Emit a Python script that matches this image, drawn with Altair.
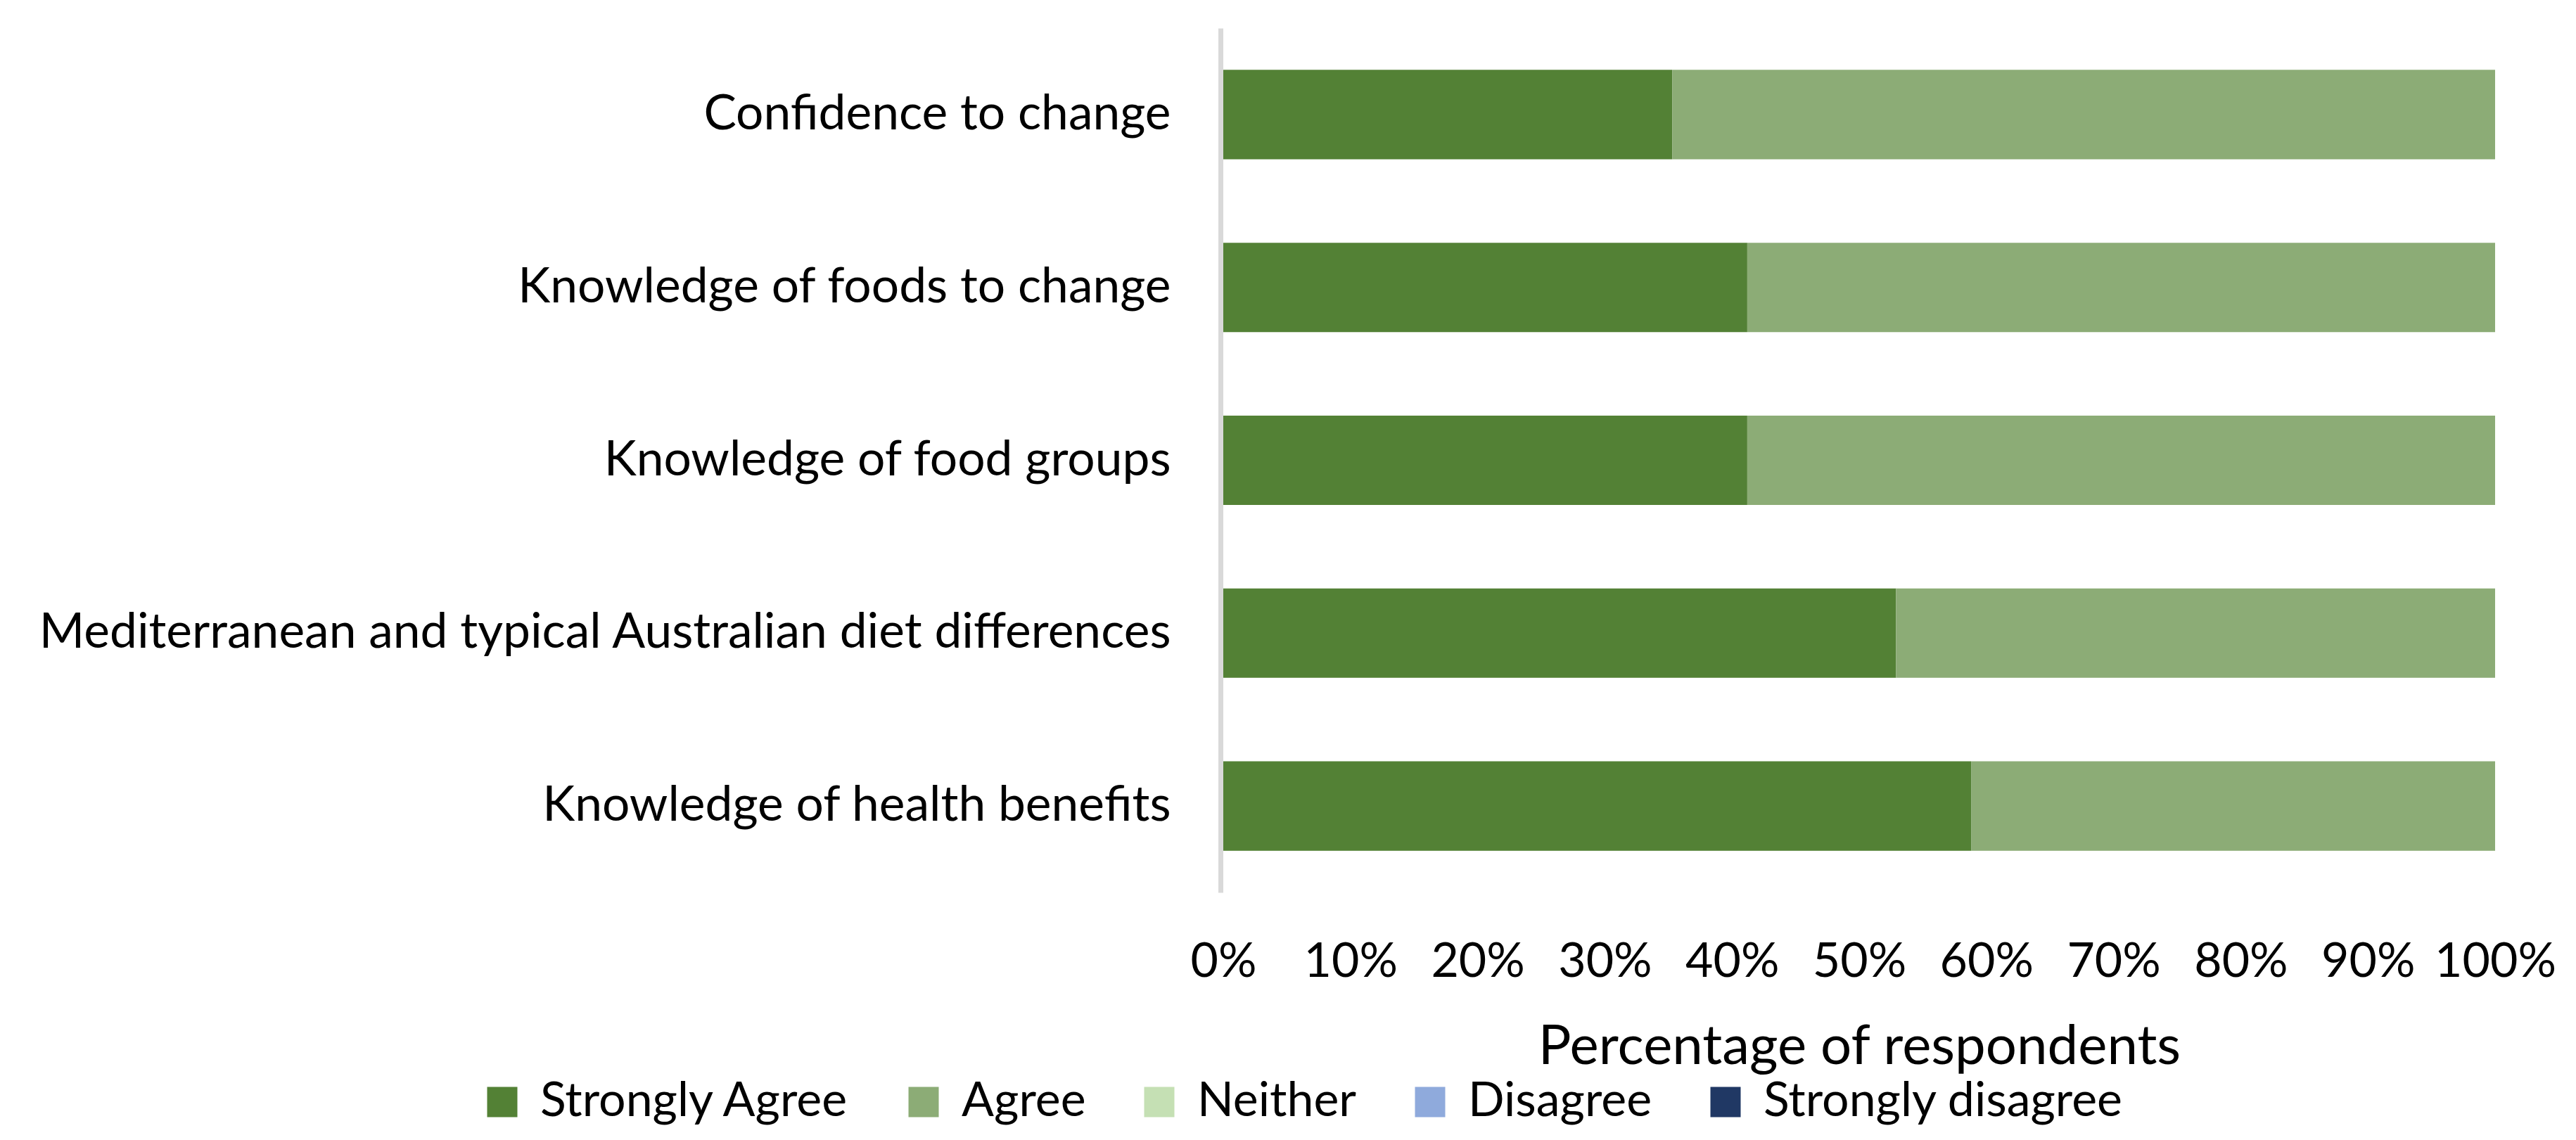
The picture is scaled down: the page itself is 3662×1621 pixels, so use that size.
import altair as alt
import pandas as pd

categories = [
    "Confidence to change",
    "Knowledge of foods to change",
    "Knowledge of food groups",
    "Mediterranean and typical Australian diet differences",
    "Knowledge of health benefits",
]
responses = ["Strongly Agree", "Agree", "Neither", "Disagree", "Strongly disagree"]
colors = ["#538135", "#8CAC76", "#C5E0B4", "#8FAADC", "#203864"]

strongly_agree = [35.3, 41.2, 41.2, 52.9, 58.8]
agree = [64.7, 58.8, 58.8, 47.1, 41.2]
neither = [0, 0, 0, 0, 0]
disagree = [0, 0, 0, 0, 0]
strongly_disagree = [0, 0, 0, 0, 0]

series = [strongly_agree, agree, neither, disagree, strongly_disagree]
rows = []
for ri, (resp, vals) in enumerate(zip(responses, series)):
    for cat, v in zip(categories, vals):
        rows.append({"item": cat, "response": resp, "order": ri, "pct": v})
df = pd.DataFrame(rows)

FONT = "Lato"
FS = 68

chart = alt.Chart(df).mark_bar().encode(
    y=alt.Y(
        "item:N",
        sort=categories,
        scale=alt.Scale(paddingInner=0.483, paddingOuter=0.2415),
        axis=alt.Axis(
            title=None,
            domain=True,
            domainColor="#D9D9D9",
            domainWidth=7,
            offset=4,
            ticks=False,
            tickSize=0,
            labelFont=FONT,
            labelFontSize=69.5,
            labelColor="#000000",
            labelPadding=71,
            labelLimit=3000,
        ),
    ),
    x=alt.X(
        "pct:Q",
        stack="zero",
        scale=alt.Scale(domain=[0, 100], nice=False),
        axis=alt.Axis(
            title="Percentage of respondents",
            values=[0, 10, 20, 30, 40, 50, 60, 70, 80, 90, 100],
            labelExpr="datum.value + '%'",
            domain=False,
            ticks=False,
            tickSize=0,
            grid=False,
            labelFont=FONT,
            labelFontSize=FS,
            labelColor="#000000",
            labelPadding=65,
            labelFlush=False,
            labelOverlap=False,
            titleFont=FONT,
            titleFontSize=78,
            titleFontWeight="normal",
            titleColor="#000000",
            titleBaseline="alphabetic",
            titleY=243,
        ),
    ),
    color=alt.Color(
        "response:N",
        scale=alt.Scale(domain=responses, range=colors),
        legend=alt.Legend(
            title=None,
            orient="none",
            direction="horizontal",
            columns=5,
            legendX=-1059,
            legendY=1493,
            padding=0,
            symbolType="square",
            symbolSize=1850,
            symbolStrokeWidth=0,
            symbolOpacity=1,
            labelFont=FONT,
            labelFontSize=FS,
            labelColor="#000000",
            labelOffset=20,
            labelLimit=2000,
            columnPadding=70,
        ),
    ),
    order=alt.Order("order:Q"),
).properties(
    width=1808,
    height=1229,
    autosize=alt.AutoSizeParams(type="none"),
    padding={"left": 1731, "top": 32, "right": 107, "bottom": 344},
).configure(background="#FFFFFF").configure_view(strokeWidth=0, stroke=None)

chart.save("out.html", embed_options={"renderer": "svg", "actions": False})
